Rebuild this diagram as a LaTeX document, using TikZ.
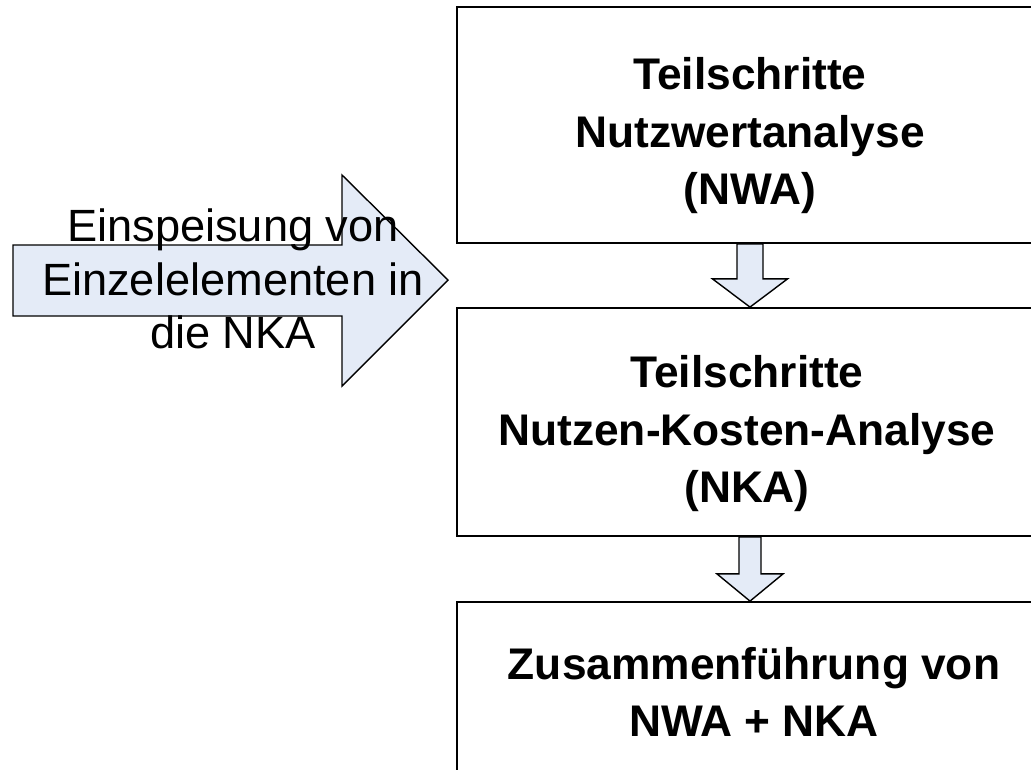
\documentclass[tikz,border=0pt]{standalone}
\usepackage{fontspec}
\setmainfont{Liberation Sans}
\usetikzlibrary{calc}
\definecolor{arrowfill}{RGB}{228,235,247}
\begin{document}
\begin{tikzpicture}[x=1pt,y=-1pt,
  stepbox/.style={draw=black, line width=1.8pt, rectangle, minimum width=586pt, inner sep=0pt},
  boxtext/.style={font=\bfseries\fontsize{44.3}{57.5}\selectfont, align=center, inner sep=0pt},
  feedtext/.style={font=\fontsize{45.2}{53.3}\selectfont, align=center, inner sep=0pt},
  blockarrow/.style={draw=black, fill=arrowfill, line width=1.4pt, line join=miter}]
\useasboundingbox (0,0) rectangle (1031,769);

% process boxes (right side runs past the page edge)
\node[stepbox, minimum height=236pt] (b1) at (750,125) {};
\node[stepbox, minimum height=228pt] (b2) at (750,422) {};
\node[stepbox, minimum height=240pt] (b3) at (750,722) {};

% block arrows between the boxes
\draw[blockarrow] ($(b1.south)+(-13,0)$) -- ($(b1.south)+(-13,35)$)
  -- ($(b1.south)+(-37.5,35)$) -- (b2.north) -- ($(b1.south)+(37.5,35)$)
  -- ($(b1.south)+(13,35)$) -- ($(b1.south)+(13,0)$) -- cycle;
\draw[blockarrow] ($(b2.south)+(-11,0)$) -- ($(b2.south)+(-11,37)$)
  -- ($(b2.south)+(-33,37)$) -- (b3.north) -- ($(b2.south)+(33,37)$)
  -- ($(b2.south)+(11,37)$) -- ($(b2.south)+(11,0)$) -- cycle;

% feeding arrow from the left
\coordinate (tip) at (448,280);
\draw[blockarrow] (13,245) -- (342,245) -- (342,175) -- (tip)
  -- (342,386) -- (342,316) -- (13,316) -- cycle;

% texts
\node[boxtext] (t1) at (750,136) {Teilschritte\\Nutzwertanalyse\\(NWA)};
\node[boxtext] (t2) at (747,434) {Teilschritte\\Nutzen-Kosten-Analyse\\(NKA)};
\node[boxtext] (t3) at (754,692) {Zusammenführung von\\NWA + NKA};
\node[feedtext] (feed) at (233,279) {Einspeisung von\\Einzelelementen in\\die NKA};
\end{tikzpicture}
\end{document}
